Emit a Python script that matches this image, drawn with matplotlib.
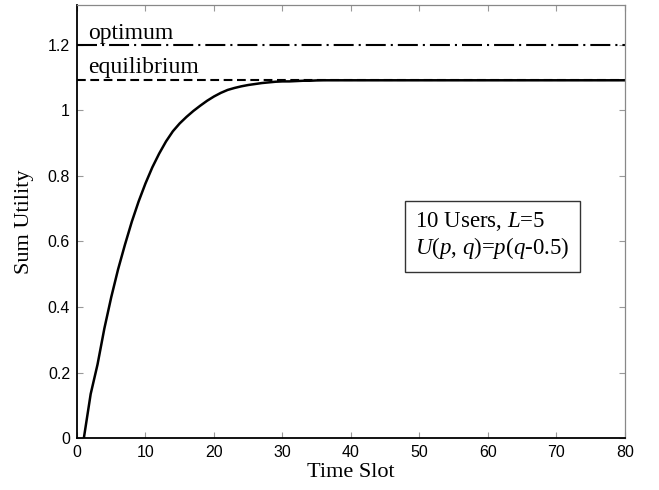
import matplotlib
matplotlib.use("Agg")
import matplotlib.pyplot as plt
import numpy as np

# sum utility per time slot
slots = list(range(1, 81))
utility_head = [0.0, 0.135, 0.225, 0.335, 0.43, 0.515, 0.59, 0.66, 0.722, 0.777,
                0.826, 0.868, 0.905, 0.936, 0.96, 0.98, 0.998, 1.014, 1.029, 1.042,
                1.053, 1.062, 1.068, 1.073, 1.077, 1.080, 1.083, 1.085, 1.087, 1.088,
                1.088, 1.089, 1.090, 1.090, 1.091]
equilibrium = 1.0914
optimum = 1.2
utility = utility_head + [equilibrium] * (len(slots) - len(utility_head))

xticks = [0, 10, 20, 30, 40, 50, 60, 70, 80]
yticks = [0, 0.2, 0.4, 0.6, 0.8, 1.0, 1.2]
ytick_labels = ['0', '0.2', '0.4', '0.6', '0.8', '1', '1.2']

plt.rcParams['mathtext.fontset'] = 'custom'
plt.rcParams['mathtext.rm'] = 'Liberation Serif'
plt.rcParams['mathtext.it'] = 'Liberation Serif:italic'

fig = plt.figure(figsize=(6.59, 4.90), dpi=100)
ax = fig.add_axes([0.1168, 0.1055, 0.8316, 0.8837])

ax.plot([0, 80], [optimum, optimum], color='black', lw=1.5,
        linestyle=(0, (9.6, 2.4, 1.0, 2.4)))
ax.plot([0, 80], [equilibrium, equilibrium], color='black', lw=1.5,
        linestyle=(0, (4.2, 2.2)))
ax.plot(slots, utility, color='black', lw=1.8)

serif = 'Liberation Serif'
ax.text(1.7, 1.218, 'optimum', fontsize=17, family=serif, va='baseline')
ax.text(1.7, 1.114, 'equilibrium', fontsize=17, family=serif, va='baseline')
ax.text(49.4, 0.617, '10 Users, $L$=5\n$U$($p$, $q$)=$p$($q$-0.5)',
        fontsize=16.5, family=serif, va='center', ha='left', linespacing=1.1,
        bbox=dict(boxstyle='square,pad=0.45', fc='white', ec='#333333', lw=1.0))

ax.set_xlim(0, 80)
ax.set_ylim(0, 1.32)
ax.set_xticks(xticks)
ax.set_yticks(yticks)
ax.set_yticklabels(ytick_labels)
ax.tick_params(direction='in', length=4, width=0.8, color='#999999',
               top=True, right=True, labelsize=11.5, pad=5)
for lab in ax.get_xticklabels() + ax.get_yticklabels():
    lab.set_family('Liberation Sans')

ax.spines['left'].set_linewidth(1.3)
ax.spines['bottom'].set_linewidth(1.3)
ax.spines['top'].set_color('#888888')
ax.spines['right'].set_color('#888888')
ax.spines['top'].set_linewidth(0.9)
ax.spines['right'].set_linewidth(0.9)

ax.set_xlabel('Time Slot', fontsize=16, family=serif, labelpad=2)
ax.set_ylabel('Sum Utility', fontsize=16, family=serif, labelpad=10)

fig.savefig('out.png', dpi=100)
